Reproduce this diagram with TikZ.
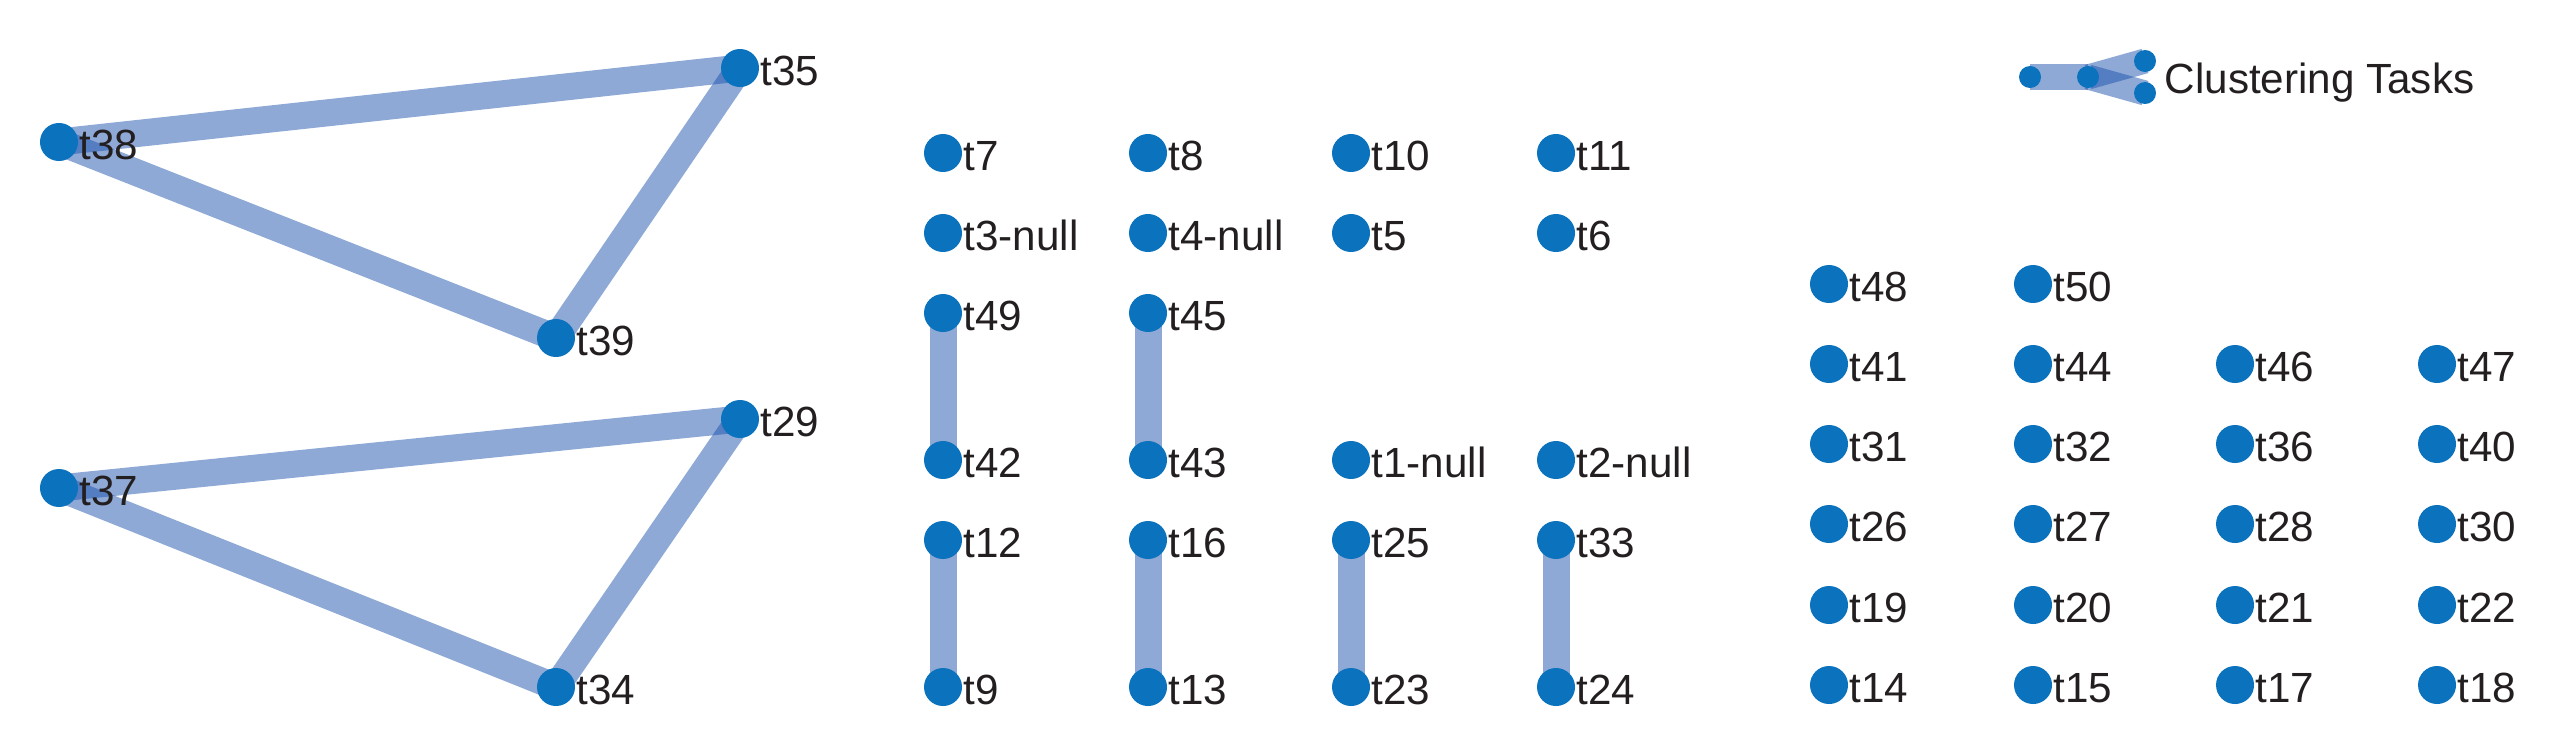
\documentclass[tikz,border=0pt]{standalone}
\usepackage{fontspec}
\setmainfont{Liberation Sans}
\usetikzlibrary{calc,backgrounds}
\definecolor{dotblue}{RGB}{11,114,189}
\definecolor{edgeblue}{RGB}{29,83,173}
\definecolor{txt}{RGB}{35,31,32}
\tikzset{
  tdot/.style={circle, fill=dotblue, minimum size=0.38cm, inner sep=0pt},
  ldot/.style={circle, fill=dotblue, minimum size=0.22cm, inner sep=0pt},
  tlabel/.style={anchor=base west, inner sep=0pt, text=txt, font=\fontsize{12}{14}\selectfont},
  tedge/.style={draw=edgeblue, draw opacity=0.5, line width=0.27cm, line cap=butt},
  ledge/.style={draw=edgeblue, draw opacity=0.5, line width=0.25cm, line cap=butt}
}
\newcommand\task[4]{%
  \node[tdot] (#1) at (#2,#3) {};
  \node[tlabel] (#1l) at ($(#1)+(20,17)$) {#4};}
\begin{document}
\begin{tikzpicture}[x=0.01cm,y=-0.01cm]
\useasboundingbox (0,0) rectangle (2558,754);
% left triangles
\task{t38}{59}{142}{t38}
\task{t35}{740}{68}{t35}
\task{t39}{556}{338}{t39}
\task{t37}{59}{488}{t37}
\task{t29}{740}{419}{t29}
\task{t34}{556}{687}{t34}
% middle grid
\task{t7}{943}{153}{t7}
\task{t8}{1148}{153}{t8}
\task{t10}{1351}{153}{t10}
\task{t11}{1556}{153}{t11}
\task{t3n}{943}{233}{t3-null}
\task{t4n}{1148}{233}{t4-null}
\task{t5}{1351}{233}{t5}
\task{t6}{1556}{233}{t6}
\task{t49}{943}{313}{t49}
\task{t45}{1148}{313}{t45}
\task{t42}{943}{460}{t42}
\task{t43}{1148}{460}{t43}
\task{t1n}{1351}{460}{t1-null}
\task{t2n}{1556}{460}{t2-null}
\task{t12}{943}{540}{t12}
\task{t16}{1148}{540}{t16}
\task{t25}{1351}{540}{t25}
\task{t33}{1556}{540}{t33}
\task{t9}{943}{687}{t9}
\task{t13}{1148}{687}{t13}
\task{t23}{1351}{687}{t23}
\task{t24}{1556}{687}{t24}
% right grid
\task{t48}{1829}{284}{t48}
\task{t50}{2033}{284}{t50}
\task{t41}{1829}{364}{t41}
\task{t44}{2033}{364}{t44}
\task{t46}{2235}{364}{t46}
\task{t47}{2437}{364}{t47}
\task{t31}{1829}{444}{t31}
\task{t32}{2033}{444}{t32}
\task{t36}{2235}{444}{t36}
\task{t40}{2437}{444}{t40}
\task{t26}{1829}{524}{t26}
\task{t27}{2033}{524}{t27}
\task{t28}{2235}{524}{t28}
\task{t30}{2437}{524}{t30}
\task{t19}{1829}{605}{t19}
\task{t20}{2033}{605}{t20}
\task{t21}{2235}{605}{t21}
\task{t22}{2437}{605}{t22}
\task{t14}{1829}{685}{t14}
\task{t15}{2033}{685}{t15}
\task{t17}{2235}{685}{t17}
\task{t18}{2437}{685}{t18}
% legend
\node[ldot] (la) at (2030,77) {};
\node[ldot] (lb) at (2088,77) {};
\node[ldot] (lc) at (2145,61) {};
\node[ldot] (ld) at (2145,93) {};
\node[tlabel] (ltext) at (2164,93) {Clustering Tasks};
\begin{scope}[on background layer]
\draw[tedge] (t38.center) -- (t35.center);
\draw[tedge] (t38.center) -- (t39.center);
\draw[tedge] (t39.center) -- (t35.center);
\draw[tedge] (t37.center) -- (t29.center);
\draw[tedge] (t37.center) -- (t34.center);
\draw[tedge] (t34.center) -- (t29.center);
\draw[tedge] (t49.center) -- (t42.center);
\draw[tedge] (t45.center) -- (t43.center);
\draw[tedge] (t12.center) -- (t9.center);
\draw[tedge] (t16.center) -- (t13.center);
\draw[tedge] (t25.center) -- (t23.center);
\draw[tedge] (t33.center) -- (t24.center);
\draw[ledge] (la.center) -- (lb.center);
\draw[ledge] (lb.center) -- (lc.center);
\draw[ledge] (lb.center) -- (ld.center);
\end{scope}
\end{tikzpicture}
\end{document}
